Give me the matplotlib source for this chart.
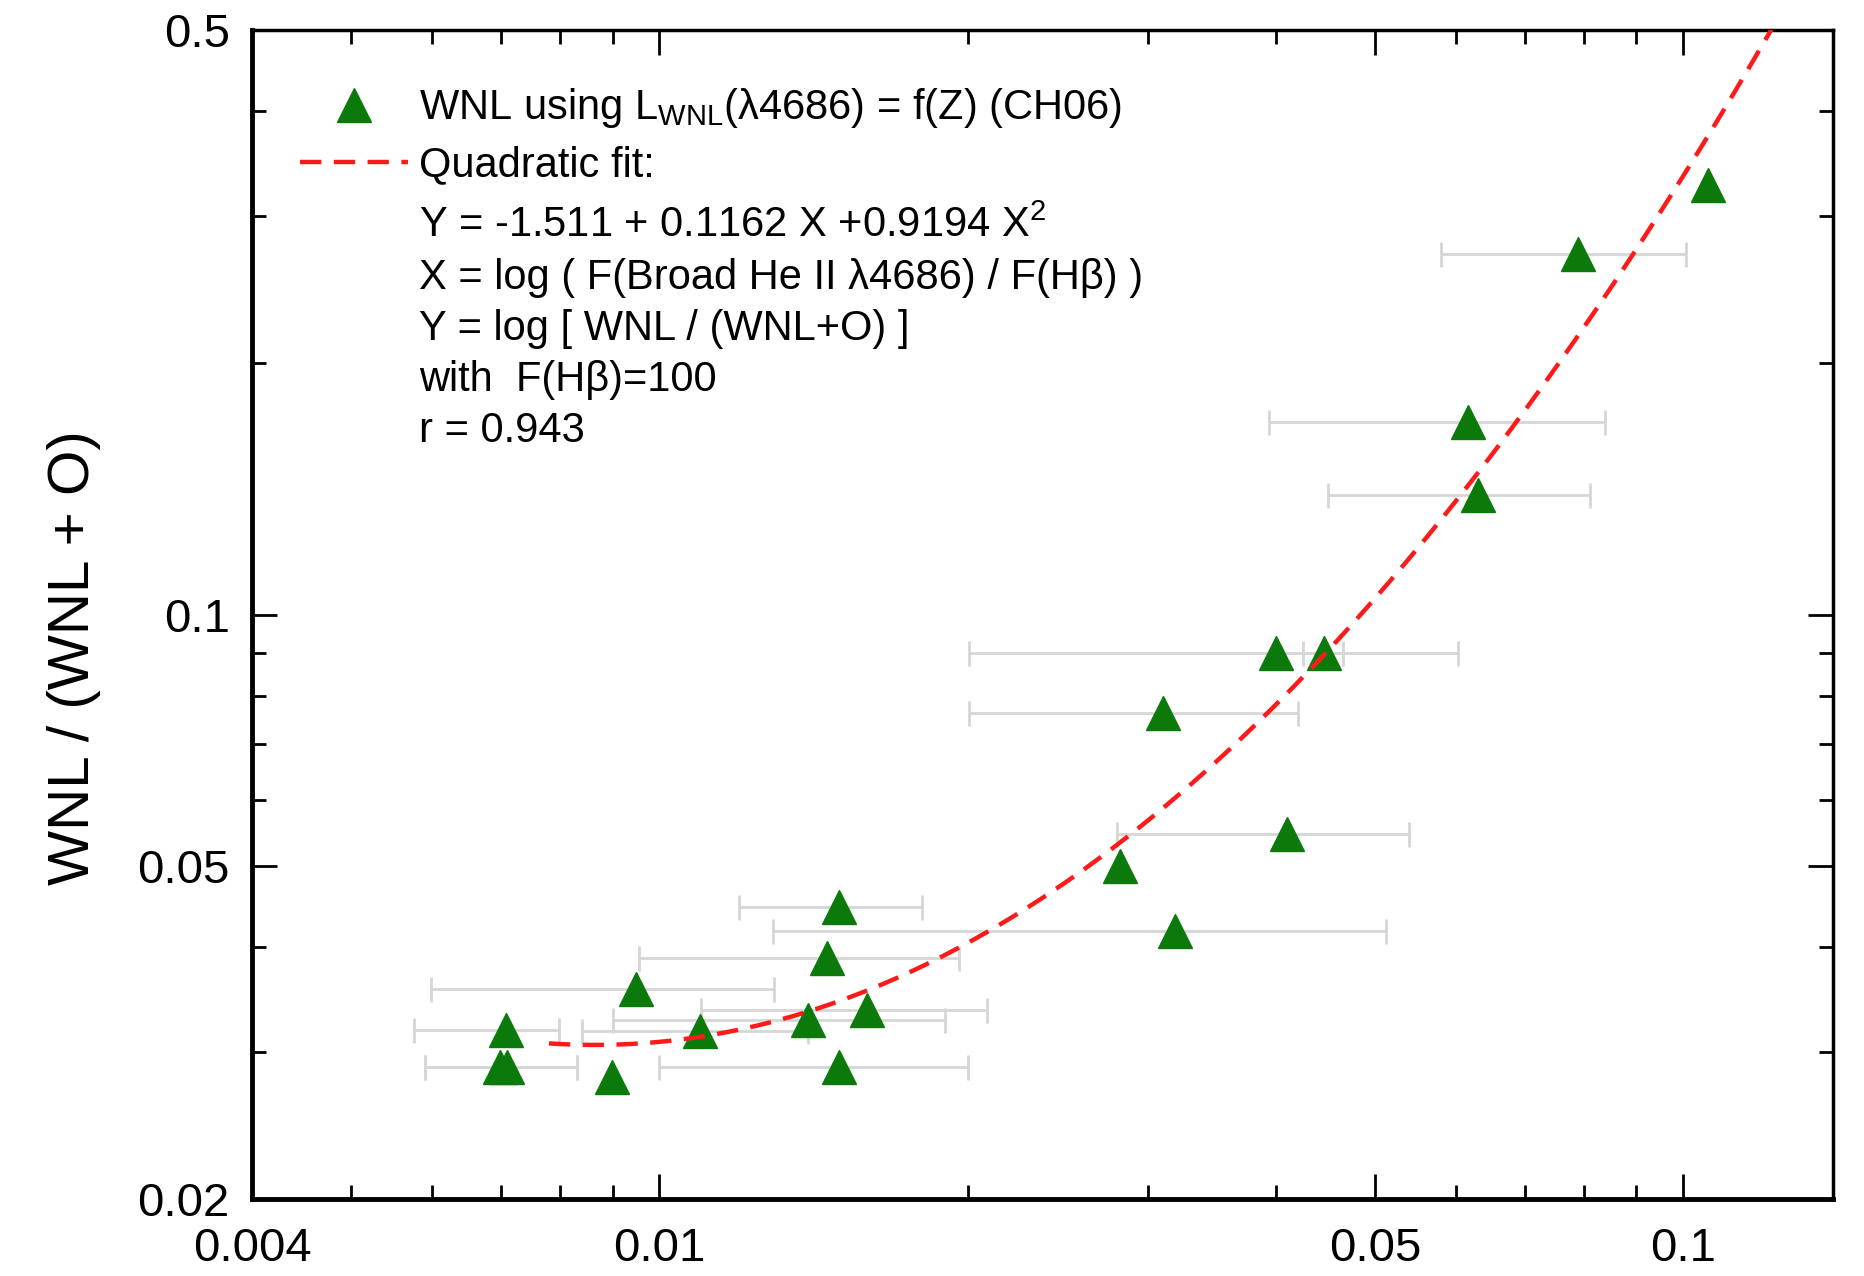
import numpy as np
import matplotlib
matplotlib.use("Agg")
import matplotlib.pyplot as plt

plt.rcParams['font.family'] = ['Liberation Sans', 'DejaVu Sans']
plt.rcParams['mathtext.fontset'] = 'custom'
plt.rcParams['mathtext.rm'] = 'Liberation Sans'
plt.rcParams['mathtext.it'] = 'Liberation Sans:italic'

# WNL fraction points
wnl_x = [0.1058, 0.0790, 0.0616, 0.0630, 0.0400, 0.0446, 0.0310, 0.0410, 0.0282,
         0.0319, 0.01499, 0.01459, 0.00948, 0.01596, 0.01398, 0.00709, 0.01096,
         0.00698, 0.00710, 0.00898, 0.01496]
wnl_y = [0.3266, 0.2697, 0.170, 0.1389, 0.0900, 0.0900, 0.0763, 0.0547, 0.0501,
         0.0418, 0.0447, 0.0388, 0.0357, 0.0337, 0.0327, 0.03184, 0.0318,
         0.02876, 0.02876, 0.02798, 0.02876]
# horizontal error bar limits (nan = no bar)
x_low = [np.nan, 0.0580, 0.0394, 0.0450, 0.02005, 0.0425, 0.02005, 0.0280, np.nan,
         0.01292, 0.01197, 0.00956, 0.00598, 0.01099, 0.0090, 0.00576, 0.00841,
         0.00590, 0.00590, np.nan, 0.0100]
x_high = [np.nan, 0.1005, 0.0839, 0.0811, 0.0602, 0.0465, 0.0420, 0.0540, np.nan,
          0.0512, 0.01803, 0.01963, 0.01295, 0.0209, 0.01899, 0.00797, 0.01398,
          0.0083, 0.0083, np.nan, 0.02003]

# quadratic fit in log space: Y = a + b X + c X^2, X = log(100 x)
fit_coef = [-1.511, 0.1162, 0.9194]
fit_start = 0.0078

legend_lines = [
    "Y = -1.511 + 0.1162 X +0.9194 X$^{\\mathregular{2}}$",
    "X = log ( F(Broad He II \u03bb4686) / F(H\u03b2) )",
    "Y = log [ WNL / (WNL+O) ]",
    "with  F(H\u03b2)=100",
    "r = 0.943",
]

fig = plt.figure(figsize=(18.65, 12.76), dpi=100)
ax = fig.add_axes([0.1351, 0.0603, 0.8477, 0.9162])

x = np.array(wnl_x)
y = np.array(wnl_y)
lo = np.array(x_low)
hi = np.array(x_high)
m = ~np.isnan(lo)
ax.errorbar(x[m], y[m], xerr=[x[m] - lo[m], hi[m] - x[m]], fmt='none',
            ecolor='#d6d6d6', elinewidth=2.0, capsize=9, capthick=2.0, zorder=1)
ax.plot(x, y, ls='none', marker='^', ms=24, color='#0b7a0b', mec='#0b7a0b',
        zorder=2, label="WNL using L$_{\\mathregular{WNL}}$(\u03bb4686) = f(Z) (CH06)")

xf = np.logspace(np.log10(fit_start), np.log10(0.14), 300)
X = np.log10(100 * xf)
Y = fit_coef[0] + fit_coef[1] * X + fit_coef[2] * X ** 2
ax.plot(xf, 10 ** Y, color='#ff1a1a', lw=3.2, dashes=(4.8, 2.8), zorder=3,
        label="Quadratic fit:")

ax.set_xscale('log')
ax.set_yscale('log')
ax.set_xlim(0.004, 0.14)
ax.set_ylim(0.02, 0.5)

ax.set_xticks([0.004, 0.01, 0.05, 0.1])
ax.set_xticklabels(['0.004', '0.01', '0.05', '0.1'])
ax.set_xticks([0.005, 0.006, 0.007, 0.008, 0.009, 0.02, 0.03, 0.04,
               0.06, 0.07, 0.08, 0.09], minor=True)
ax.set_yticks([0.02, 0.05, 0.1, 0.5])
ax.set_yticklabels(['0.02', '0.05', '0.1', '0.5'])
ax.set_yticks([0.03, 0.04, 0.06, 0.07, 0.08, 0.09, 0.2, 0.3, 0.4], minor=True)
ax.xaxis.set_minor_formatter(plt.NullFormatter())
ax.yaxis.set_minor_formatter(plt.NullFormatter())

ax.tick_params(which='both', direction='in', top=True, right=True, width=2)
ax.tick_params(which='major', length=18, labelsize=34)
ax.tick_params(which='minor', length=10)
ax.tick_params(axis='x', which='major', pad=20)
ax.tick_params(axis='y', which='major', pad=16)

for s in ['left', 'bottom']:
    ax.spines[s].set_linewidth(3.5)
for s in ['top', 'right']:
    ax.spines[s].set_linewidth(2.5)

fig.text(74 / 1865, 1 - 658 / 1276, "WNL / (WNL + O)", rotation=90,
         fontsize=42, ha='center', va='center')

ax.legend(loc='upper left', bbox_to_anchor=(0.0304, 0.952), frameon=False,
          fontsize=30, borderpad=0, borderaxespad=0, handlelength=2.6,
          handletextpad=0.26, labelspacing=0.36, numpoints=1)

for yy, line in zip([0.8229, 0.7784, 0.7348, 0.6912, 0.6476], legend_lines):
    ax.text(0.1056, yy, line, transform=ax.transAxes, fontsize=30,
            ha='left', va='baseline')

fig.savefig('out.png', dpi=100)
